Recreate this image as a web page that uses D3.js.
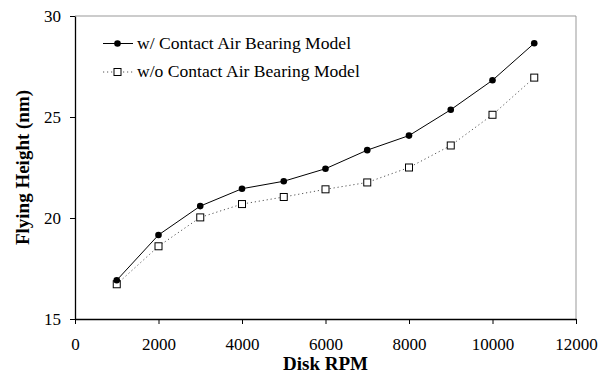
<!DOCTYPE html>
<html>
<head>
<meta charset="utf-8">
<script src="https://cdn.jsdelivr.net/npm/d3@7"></script>
<style>
  body { margin: 0; background: #fff; }
  text { font-family: "Liberation Serif", "Times New Roman", serif; }
</style>
</head>
<body>
<svg id="vis"></svg>
<script>
// DATOS ---------------------------------------------------------------
const rpm = [1000, 2000, 3000, 4000, 5000, 6000, 7000, 8000, 9000, 10000, 11000];
const conContacto = [16.92, 19.16, 20.59, 21.45, 21.82, 22.44, 23.36, 24.08, 25.36, 26.82, 28.65];
const sinContacto = [16.72, 18.6, 20.03, 20.69, 21.04, 21.42, 21.76, 22.5, 23.59, 25.11, 26.95];
const xTicks = [0, 2000, 4000, 6000, 8000, 10000, 12000];
const yTicks = [15, 20, 25, 30];
const nombres = ["w/ Contact Air Bearing Model", "w/o Contact Air Bearing Model"];

const WIDTH = 600;
const HEIGHT = 377;
const MARGIN = { top: 16, bottom: 58, right: 24, left: 75 };
const WIDTHVIS = WIDTH - MARGIN.left - MARGIN.right;
const HEIGHTVIS = HEIGHT - MARGIN.top - MARGIN.bottom;

const svg = d3.select("#vis").attr("width", WIDTH).attr("height", HEIGHT);

const escalaX = d3.scaleLinear().domain([0, 12000]).range([0, WIDTHVIS]);
const escalaY = d3.scaleLinear().domain([15, 30]).range([HEIGHTVIS, 0]);

const contenedor = svg
  .append("g")
  .attr("transform", `translate(${MARGIN.left} ${MARGIN.top})`);

// borde gris arriba y derecha
contenedor
  .append("path")
  .attr("d", `M0,0H${WIDTHVIS}V${HEIGHTVIS}`)
  .attr("fill", "none")
  .attr("stroke", "#999")
  .attr("stroke-width", 1);

// EJES ---------------------------------------------------------------
const ejeX = contenedor
  .append("g")
  .attr("transform", `translate(0, ${HEIGHTVIS})`)
  .call(d3.axisBottom(escalaX).tickValues(xTicks).tickSize(5).tickSizeOuter(0).tickFormat(d3.format("d")));
const ejeY = contenedor
  .append("g")
  .call(d3.axisLeft(escalaY).tickValues(yTicks).tickSize(5).tickSizeOuter(0));

[ejeX, ejeY].forEach((g) => {
  g.attr("font-family", "Liberation Serif");
  g.select(".domain").attr("stroke", "#000").attr("stroke-width", 1.3);
  g.selectAll("line").attr("stroke", "#000");
  g.selectAll("text")
    .style("font-family", "Liberation Serif")
    .style("font-size", "17px")
    .attr("fill", "#000");
});
ejeX.selectAll("text").attr("y", 31).attr("dy", null);
ejeY.selectAll("text").attr("x", -14).attr("dy", "0.34em");

svg
  .append("text")
  .attr("x", MARGIN.left + WIDTHVIS / 2)
  .attr("y", 370)
  .attr("text-anchor", "middle")
  .style("font-size", "19px")
  .style("font-weight", "bold")
  .text("Disk RPM");
svg
  .append("text")
  .attr("transform", `translate(29, ${MARGIN.top + HEIGHTVIS / 2}) rotate(-90)`)
  .attr("text-anchor", "middle")
  .style("font-size", "19px")
  .style("font-weight", "bold")
  .text("Flying Height (nm)");

// LINEAS -------------------------------------------------------------
const linea = d3
  .line()
  .x((d) => escalaX(d[0]))
  .y((d) => escalaY(d[1]));

const datosSin = rpm.map((r, i) => [r, sinContacto[i]]);
const datosCon = rpm.map((r, i) => [r, conContacto[i]]);

contenedor
  .append("path")
  .datum(datosSin)
  .attr("d", linea)
  .attr("fill", "none")
  .attr("stroke", "#555")
  .attr("stroke-width", 1)
  .attr("stroke-dasharray", "1.2,2.8");

contenedor
  .append("path")
  .datum(datosCon)
  .attr("d", linea)
  .attr("fill", "none")
  .attr("stroke", "#000")
  .attr("stroke-width", 1);

contenedor
  .selectAll("rect.sin")
  .data(datosSin)
  .join("rect")
  .attr("class", "sin")
  .attr("x", (d) => escalaX(d[0]) - 3.5)
  .attr("y", (d) => escalaY(d[1]) - 3.5)
  .attr("width", 7)
  .attr("height", 7)
  .attr("fill", "#fff")
  .attr("stroke", "#000")
  .attr("stroke-width", 1);

contenedor
  .selectAll("circle.con")
  .data(datosCon)
  .join("circle")
  .attr("class", "con")
  .attr("cx", (d) => escalaX(d[0]))
  .attr("cy", (d) => escalaY(d[1]))
  .attr("r", 3.3)
  .attr("fill", "#000");

// LEYENDA ------------------------------------------------------------
const leyenda = svg.append("g");
leyenda.append("line").attr("x1", 103).attr("x2", 133).attr("y1", 43.5).attr("y2", 43.5).attr("stroke", "#000");
leyenda.append("circle").attr("cx", 117.5).attr("cy", 43.5).attr("r", 3.3).attr("fill", "#000");
leyenda.append("text").attr("x", 137).attr("y", 48.5).style("font-size", "17.6px").text(nombres[0]);

leyenda.append("line").attr("x1", 103).attr("x2", 133).attr("y1", 72).attr("y2", 72)
  .attr("stroke", "#555").attr("stroke-dasharray", "1.2,2.8");
leyenda.append("rect").attr("x", 114).attr("y", 68.5).attr("width", 7).attr("height", 7)
  .attr("fill", "#fff").attr("stroke", "#000");
leyenda.append("text").attr("x", 137).attr("y", 77).style("font-size", "17.6px").text(nombres[1]);
</script>
</body>
</html>
